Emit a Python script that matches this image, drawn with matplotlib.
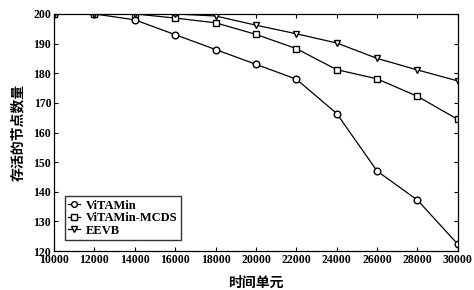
import matplotlib
matplotlib.use("Agg")
import matplotlib.pyplot as plt

# data
x = [10000, 12000, 14000, 16000, 18000, 20000, 22000, 24000, 26000, 28000, 30000]
vitamin = [200, 200, 198, 193, 188, 183, 178, 166.4, 147, 137.2, 122.3]
mcds = [200, 200, 200, 198.6, 197, 193.1, 188.3, 181.2, 178.1, 172.2, 164.4]
eevb = [200, 200, 200, 200, 199.3, 196.2, 193.3, 190.2, 185, 181.1, 177.4]
labels = ["ViTAMin", "ViTAMin-MCDS", "EEVB"]
xticks = list(range(10000, 30001, 2000))
yticks = list(range(120, 201, 10))

plt.rcParams["font.family"] = ["Liberation Serif", "Noto Sans CJK SC"]

fig = plt.figure(figsize=(4.74, 2.9), dpi=100)
ax = fig.add_axes([0.114, 0.134, 0.852, 0.818])

style = dict(color="black", linewidth=0.9, markerfacecolor="white",
             markeredgecolor="black", markeredgewidth=1.0)
ax.plot(x, vitamin, marker="o", markersize=4.8, label=labels[0], **style)
ax.plot(x, mcds, marker="s", markersize=4.8, label=labels[1], **style)
ax.plot(x, eevb, marker="v", markersize=4.8, label=labels[2], **style)

ax.set_xlim(10000, 30000)
ax.set_ylim(120, 200)
ax.set_xticks(xticks)
ax.set_yticks(yticks)
ax.set_xticklabels([str(t) for t in xticks], fontsize=8.5, fontweight="bold")
ax.set_yticklabels([str(t) for t in yticks], fontsize=8.5, fontweight="bold")
ax.tick_params(direction="in", length=3, width=0.8, top=True, right=True, pad=2)
for s in ax.spines.values():
    s.set_linewidth(0.9)

ax.set_xlabel("时间单元", family=["Noto Sans CJK SC"], fontsize=10,
              fontweight="bold", labelpad=7)
ax.set_ylabel("存活的节点数量", family=["Noto Sans CJK SC"], fontsize=10,
              fontweight="bold", labelpad=6)

leg = ax.legend(loc="lower left", frameon=True, fancybox=False,
                edgecolor="black", handlelength=0.9, handletextpad=0.5,
                borderpad=0.25, labelspacing=0.05, borderaxespad=0.9,
                markerscale=0.85,
                prop={"family": "Liberation Serif", "weight": "bold", "size": 9})
leg.get_frame().set_linewidth(1.0)

fig.savefig("out.png", dpi=100)
